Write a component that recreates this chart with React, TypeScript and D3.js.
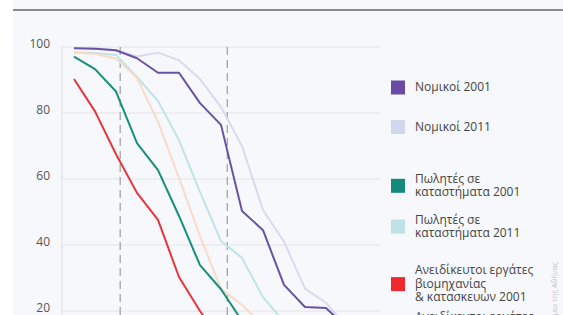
import * as d3 from 'd3';
import React, { useRef, useEffect } from 'react';

// age steps along the x axis (index of each measured point)
const steps = [0, 1, 2, 3, 4, 5, 6, 7, 8, 9, 10, 11, 12, 13, 14];

const lawyers2001 = [99.6, 99.5, 99, 96.6, 92.2, 92.2, 83, 76.4, 50.3, 44.5, 27.9, 21.2, 20.9, 15, 8];
const lawyers2011 = [99.7, 99.6, 99, 97.1, 98.3, 96, 90.3, 81.8, 70, 50.6, 41, 26.8, 22.5, 15, 9];
const sales2001 = [97.1, 93.3, 86.5, 70.9, 62.7, 48.8, 33.9, 26.6, 17, 10, 6, 3, 2, 1, 0.5];
const sales2011 = [98.3, 98.2, 97.6, 90.9, 83.6, 71.8, 56, 41.2, 36.1, 24.2, 16.7, 10, 6, 3, 2];
const unskilled2001 = [90.3, 80.5, 67.5, 55.8, 47.6, 30.3, 20, 11, 6, 3, 2, 1, 0.5, 0.3, 0.2];
const unskilled2011 = [98.3, 97.9, 96.5, 90.6, 77.3, 60.3, 42.7, 26.7, 21.8, 15.8, 10, 6, 3, 2, 1];

const yTicks = [20, 40, 60, 80, 100];
const markers = [2.2, 7.3];

const series = [
  { name: "Νομικοί 2011", values: lawyers2011, color: "#d8dbf0", legend: "#cfd8ec", group: 0, year: 1 },
  { name: "Πωλητές σε|καταστήματα 2011", values: sales2011, color: "#bfe3e6", legend: "#bfe2e6", group: 1, year: 1 },
  { name: "Ανειδίκευτοι εργάτες|βιομηχανίας|& κατασκευών 2011", values: unskilled2011, color: "#fbdac7", legend: "#fbd0b8", group: 2, year: 1 },
  { name: "Νομικοί 2001", values: lawyers2001, color: "#6a51a3", legend: "#6a4aa5", group: 0, year: 0 },
  { name: "Πωλητές σε|καταστήματα 2001", values: sales2001, color: "#168f7b", legend: "#138a7a", group: 1, year: 0 },
  { name: "Ανειδίκευτοι εργάτες|βιομηχανίας|& κατασκευών 2001", values: unskilled2001, color: "#e8343c", legend: "#ee2a2e", group: 2, year: 0 },
];

function App() {
  const ref = useRef(null);
  const width = 563;
  const height = 315;

  useEffect(() => {
    const svg = d3.select(ref.current);
    svg.selectAll("*").remove();

    const font = "'Open Sans', 'Noto Sans', sans-serif";

    svg.append("rect").attr("width", width).attr("height", height).attr("fill", "#ffffff");
    svg.append("rect").attr("x", 13).attr("width", width - 13).attr("height", height).attr("fill", "#f7f8fb");
    svg.append("line")
      .attr("x1", 13).attr("x2", width).attr("y1", 10).attr("y2", 10)
      .attr("stroke", "#8a8a8a").attr("stroke-width", 2);

    const xScale = d3.scaleLinear().domain([0, 14]).range([74, 368]);
    const yScale = d3.scaleLinear().domain([0, 100]).range([377, 47]);

    const left = 62;
    const right = 380;

    svg.append("g").selectAll("line")
      .data(yTicks).enter().append("line")
      .attr("x1", left).attr("x2", right)
      .attr("y1", (d) => yScale(d)).attr("y2", (d) => yScale(d))
      .attr("stroke", "#e2e3e8").attr("stroke-width", 1);

    svg.append("line")
      .attr("x1", left).attr("x2", left).attr("y1", yScale(100)).attr("y2", height)
      .attr("stroke", "#dcdde2").attr("stroke-width", 1);

    svg.append("g").selectAll("text")
      .data(yTicks).enter().append("text")
      .attr("x", 50).attr("y", (d) => yScale(d) + 1)
      .attr("text-anchor", "end")
      .attr("font-family", font).attr("font-size", 12).attr("fill", "#555")
      .text((d) => d);

    svg.append("g").selectAll("line")
      .data(markers).enter().append("line")
      .attr("x1", (d) => xScale(d)).attr("x2", (d) => xScale(d))
      .attr("y1", yScale(100)).attr("y2", height)
      .attr("stroke", "#a4a4a8").attr("stroke-width", 1.3)
      .attr("stroke-dasharray", "8,5");

    const line = d3.line()
      .x((d, i) => xScale(steps[i]))
      .y((d) => yScale(d));

    svg.append("g").selectAll("path")
      .data(series).enter().append("path")
      .attr("d", (s) => line(s.values))
      .attr("fill", "none")
      .attr("stroke", (s) => s.color)
      .attr("stroke-width", 2)
      .attr("stroke-linejoin", "round");

    // legend: pairs of 2001 / 2011 per occupation
    const legend = svg.append("g");
    const lh = 13.5;
    const pairGap = [0, 39.5, 40.8, 47];
    series.forEach((s) => {
      const lines = s.name.split("|");
      const cy = 87.5 + s.group * 98.3 + s.year * pairGap[lines.length];
      legend.append("rect")
        .attr("x", 391).attr("y", cy - 7).attr("width", 14).attr("height", 14)
        .attr("fill", s.legend);
      const top = cy - (lines.length * lh) / 2;
      lines.forEach((t, j) => {
        legend.append("text")
          .attr("x", 415).attr("y", top + j * lh + 10.5)
          .attr("font-family", font).attr("font-size", 12).attr("fill", "#444")
          .text(t);
      });
    });

    svg.append("text")
      .attr("transform", "translate(557, 262) rotate(-90)")
      .attr("text-anchor", "end")
      .attr("font-family", font).attr("font-size", 7.5).attr("fill", "#c2c2c6")
      .text("Πηγή: ΕΛΣΤΑΤ, Επεξεργασία: Πανεπιστήμιο της Αθήνας");
  }, []);

  return (
    <svg ref={ref} width={width} height={height}
      style={{ position: "absolute", left: 0, top: 0, display: "block" }}>
    </svg>
  );
}

export default App;
